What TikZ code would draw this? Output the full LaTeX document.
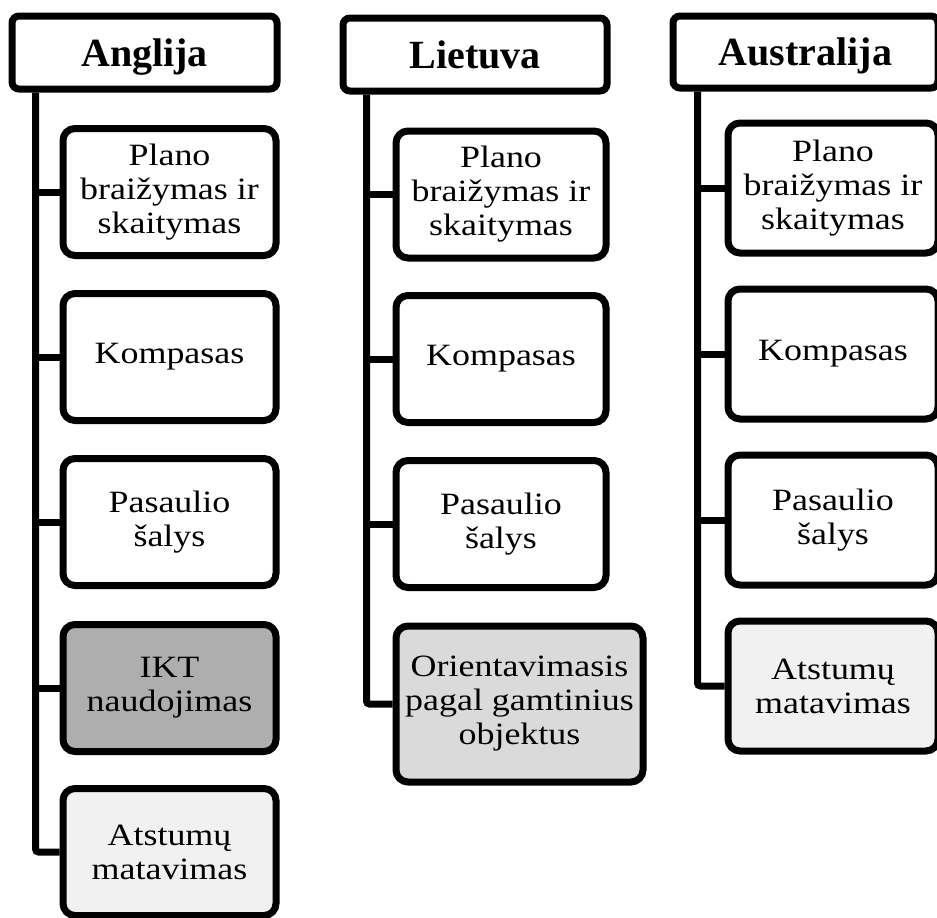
\documentclass[tikz,border=0pt]{standalone}
\usepackage{fontspec}
\setmainfont{Liberation Serif}
\newfontfamily\childfont[FakeStretch=1.16]{Liberation Serif}
\definecolor{ikt}{RGB}{174,174,174}
\definecolor{orient}{RGB}{218,218,218}
\definecolor{atst}{RGB}{241,241,241}
\begin{document}
\begin{tikzpicture}[x=1pt,y=-1pt,
  hdr/.style={draw, line width=7pt, rounded corners=7pt, fill=white,
    font=\fontsize{40}{46}\selectfont\bfseries, text height=27pt, text depth=0pt,
    inner sep=0pt, minimum height=73pt},
  item/.style={draw, line width=7pt, rounded corners=12pt, fill=white, align=center,
    font=\childfont\fontsize{31}{34}\selectfont, inner sep=0pt},
  colA/.style={item, minimum width=213pt, minimum height=127pt},
  colB/.style={item, minimum width=210pt, minimum height=127pt},
  colC/.style={item, minimum width=210pt, minimum height=130pt},
  conn/.style={line width=7pt},
  lastconn/.style={line width=7pt, rounded corners=3pt}
]
\useasboundingbox (0,0) rectangle (937,918);

% ---------- Anglija ----------
\node[hdr, minimum width=265pt] (h1) at (144.5,52.5) {Anglija};
\node[colA] (a1) at (169.5,192) {Plano\\braižymas ir\\skaitymas};
\node[colA] (a2) at (169.5,357) {Kompasas};
\node[colA] (a3) at (169.5,522) {Pasaulio\\šalys};
\node[colA, fill=ikt] (a4) at (169.5,688) {IKT\\naudojimas};
\node[colA, fill=atst] (a5) at (169.5,852) {Atstumų\\matavimas};
\coordinate (s1) at ([xshift=27pt]h1.south west);
\draw[lastconn] (s1) |- (a5.west);
\foreach \n in {a1,a2,a3,a4} \draw[conn] (s1 |- \n.west) -- (\n.west);

% ---------- Lietuva ----------
\node[hdr, minimum width=264pt] (h2) at (475,54.5) {Lietuva};
\node[colB] (b1) at (501,194.5) {Plano\\braižymas ir\\skaitymas};
\node[colB] (b2) at (501,359) {Kompasas};
\node[colB] (b3) at (501,524) {Pasaulio\\šalys};
\node[item, fill=orient, minimum width=247pt, minimum height=156pt] (b4) at (519.5,704) {Orientavimasis\\pagal gamtinius\\objektus};
\coordinate (s2) at ([xshift=27pt]h2.south west);
\draw[lastconn] (s2) |- (b4.west);
\foreach \n in {b1,b2,b3} \draw[conn] (s2 |- \n.west) -- (\n.west);

% ---------- Australija ----------
\node[hdr, minimum width=265pt, minimum height=72pt] (h3) at (805.5,52) {Australija};
\node[colC] (c1) at (833,188) {Plano\\braižymas ir\\skaitymas};
\node[colC] (c2) at (833,354) {Kompasas};
\node[colC] (c3) at (833,520) {Pasaulio\\šalys};
\node[colC, fill=atst] (c4) at (833,686) {Atstumų\\matavimas};
\coordinate (s3) at ([xshift=28pt]h3.south west);
\draw[lastconn] (s3) |- (c4.west);
\foreach \n in {c1,c2,c3} \draw[conn] (s3 |- \n.west) -- (\n.west);
\end{tikzpicture}
\end{document}
